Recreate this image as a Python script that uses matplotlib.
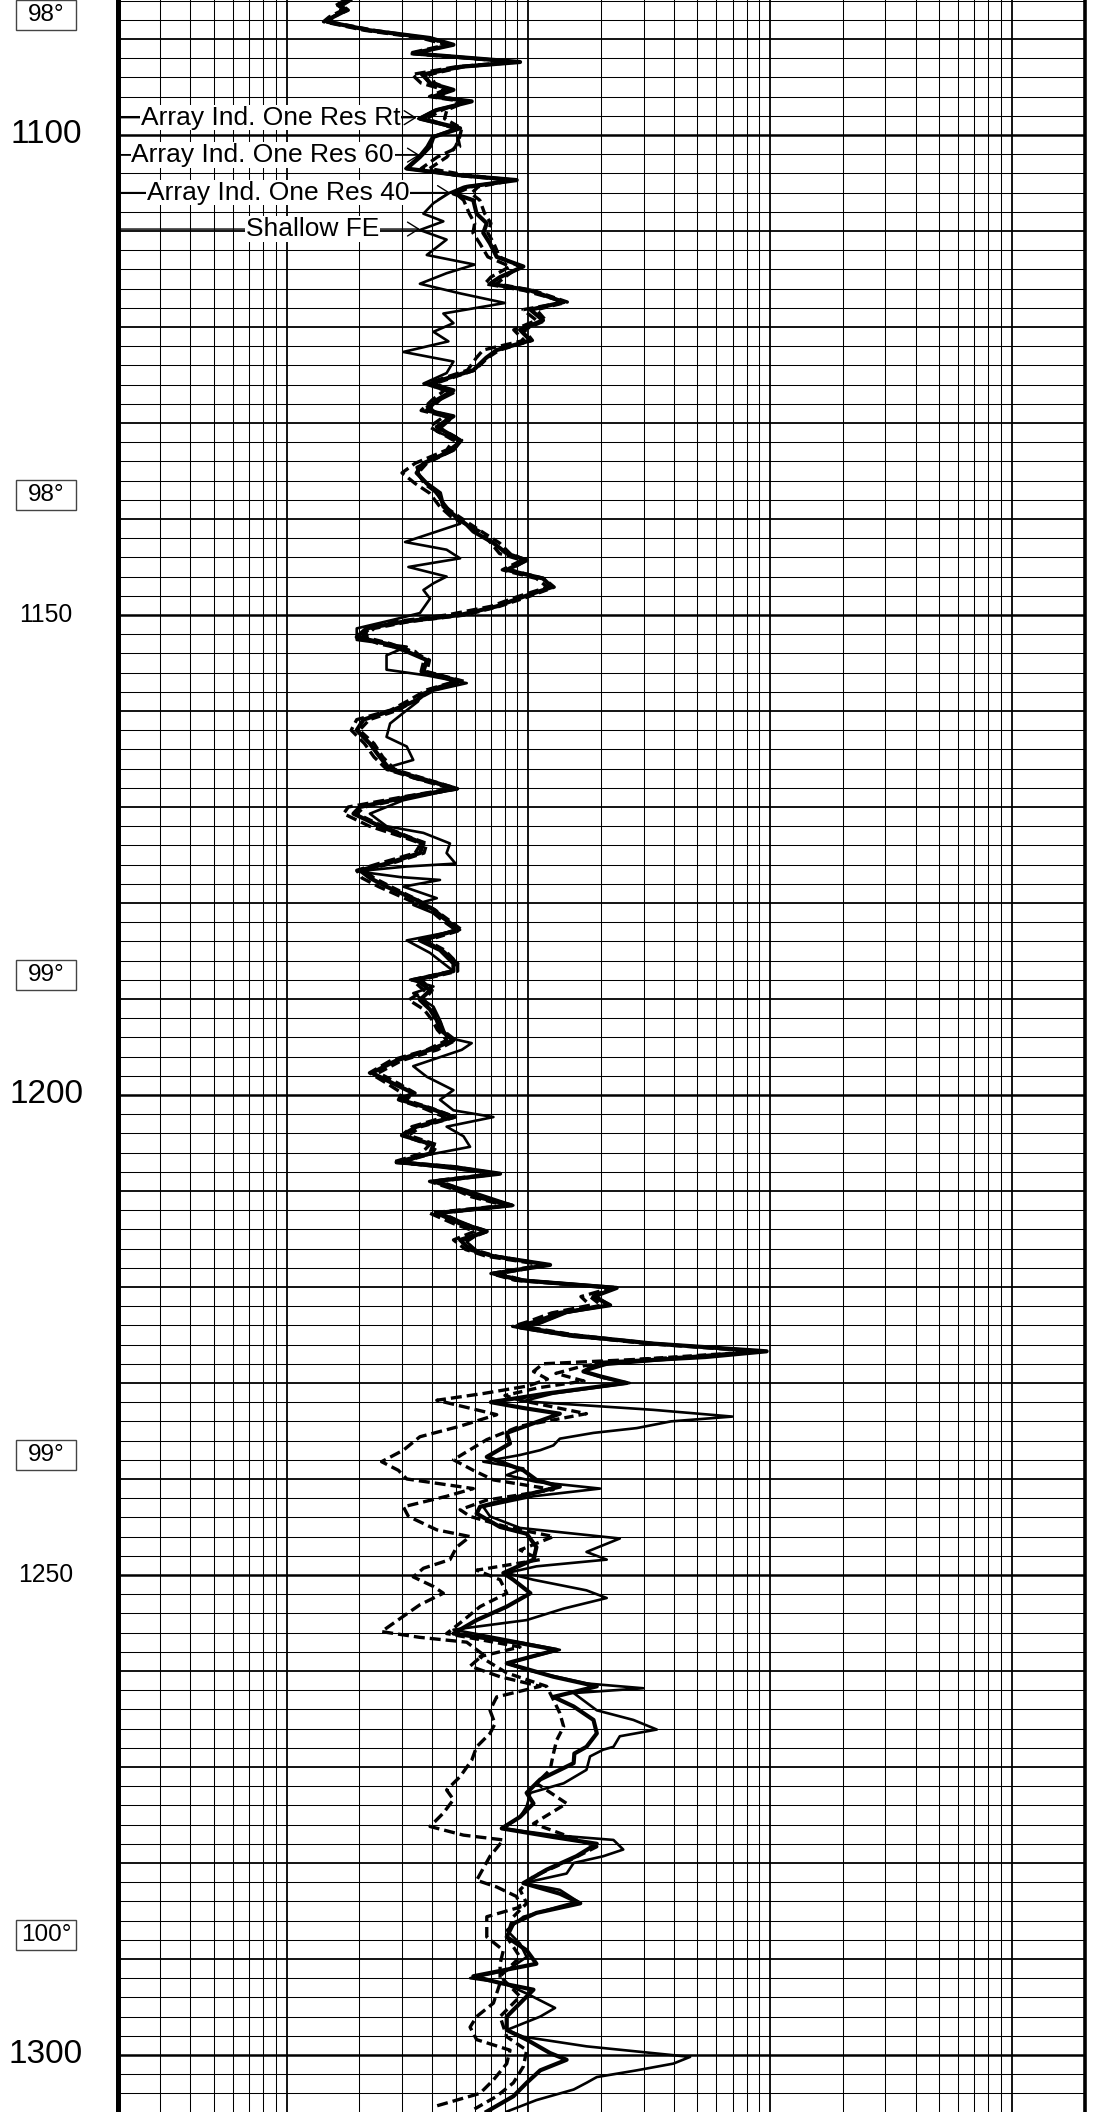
import matplotlib
matplotlib.use('Agg')
import matplotlib.pyplot as plt
import matplotlib.transforms as mtransforms
from matplotlib.patches import Rectangle

plt.rcParams['font.family'] = ['Liberation Sans', 'DejaVu Sans']

# ---- data (depth in ft, resistivity in ohm-m) ----
rt_depth = [1085.9, 1086.5, 1087.0, 1087.7, 1088.2, 1089.1, 1089.9, 1090.6, 1091.5, 1092.4,
            1092.9, 1093.7, 1094.6, 1095.3, 1096.0, 1096.5, 1097.4, 1098.3, 1099.3, 1100.2,
            1101.2, 1102.3, 1103.5, 1104.2, 1104.7, 1105.4, 1106.1, 1106.8, 1108.2, 1109.2,
            1110.2, 1111.3, 1112.7, 1113.7, 1114.8, 1115.5, 1116.2, 1117.4, 1118.2, 1119.3,
            1120.3, 1121.4, 1122.4, 1123.2, 1124.5, 1125.9, 1126.6, 1127.6, 1128.7, 1129.3,
            1130.4, 1131.8, 1132.8, 1134.2, 1135.2, 1136.3, 1137.3, 1138.7, 1139.8, 1140.6,
            1141.3, 1142.5, 1143.6, 1144.3, 1145.3, 1146.2, 1147.1, 1148.1, 1149.1, 1150.0,
            1150.7, 1151.4, 1152.3, 1153.0, 1153.8, 1154.7, 1155.9, 1156.9, 1157.8, 1158.9,
            1159.9, 1160.9, 1162.0, 1163.4, 1164.8, 1166.1, 1167.2, 1168.1, 1168.9, 1170.0,
            1170.7, 1172.0, 1173.1, 1173.8, 1174.8, 1175.9, 1176.6, 1177.4, 1178.3, 1179.7,
            1180.7, 1181.8, 1182.8, 1183.9, 1184.9, 1186.3, 1187.1, 1188.0, 1189.1, 1190.1,
            1191.1, 1192.2, 1193.2, 1194.3, 1195.3, 1196.4, 1197.7, 1198.8, 1199.8, 1200.5,
            1201.4, 1202.3, 1203.3, 1204.2, 1205.2, 1206.1, 1207.0, 1207.5, 1208.2, 1209.0,
            1209.9, 1210.6, 1211.5, 1212.3, 1213.4, 1214.2, 1215.1, 1216.1, 1216.8, 1217.7,
            1218.6, 1219.3, 1220.1, 1221.0, 1221.9, 1222.7, 1223.6, 1224.1, 1225.0, 1225.9,
            1226.7, 1227.3, 1227.9, 1228.8, 1229.3, 1230.0, 1231.1, 1232.0, 1232.6, 1233.2,
            1235.2, 1236.3, 1237.7, 1239.1, 1240.1, 1240.8, 1241.8, 1242.9, 1243.6, 1245.0,
            1245.7, 1247.1, 1248.4, 1249.8, 1250.5, 1251.9, 1253.3, 1254.7, 1256.1, 1257.1,
            1257.8, 1259.2, 1260.6, 1261.6, 1262.7, 1263.7, 1265.1, 1266.5, 1267.9, 1268.6,
            1269.6, 1271.3, 1272.7, 1273.8, 1275.2, 1276.4, 1277.3, 1278.0, 1279.3, 1280.7,
            1282.1, 1283.2, 1284.2, 1285.2, 1286.3, 1287.7, 1289.1, 1290.5, 1291.8, 1292.5,
            1293.2, 1294.6, 1296.0, 1297.4, 1298.4, 1299.8, 1300.5, 1301.6, 1302.9, 1304.3,
            1305.9]
rt_val = [1.83, 1.66, 1.77, 1.56, 1.47, 2.21, 3.92, 4.90, 3.34, 9.24,
          5.22, 3.68, 3.92, 4.90, 4.05, 5.83, 4.18, 3.56, 5.22, 4.05,
          3.92, 3.56, 3.14, 5.22, 8.95, 5.56, 4.90, 5.92, 6.11, 6.73,
          6.51, 6.94, 7.40, 9.54, 7.64, 6.94, 10.2, 14.0, 10.2, 11.5,
          9.24, 10.2, 7.40, 6.70, 5.92, 3.92, 4.90, 4.18, 3.80, 4.90,
          4.18, 5.22, 4.90, 3.68, 3.45, 3.80, 4.31, 4.45, 5.05, 5.56,
          5.92, 7.17, 8.14, 9.84, 8.14, 11.5, 12.5, 9.54, 7.40, 5.22,
          3.04, 2.14, 1.95, 2.59, 3.14, 3.80, 3.68, 5.22, 3.92, 3.45,
          2.76, 2.08, 1.95, 2.21, 2.43, 2.68, 3.80, 5.05, 3.24, 2.01,
          1.89, 2.43, 3.14, 3.68, 3.56, 2.59, 2.01, 2.21, 2.59, 3.45,
          4.05, 4.59, 5.13, 3.56, 4.31, 4.90, 4.90, 3.45, 3.92, 3.56,
          3.92, 4.18, 4.31, 4.90, 3.92, 2.85, 2.25, 2.76, 3.34, 2.95,
          3.92, 4.90, 3.45, 3.00, 4.05, 3.92, 2.85, 4.90, 7.64, 4.05,
          5.22, 6.11, 8.54, 4.18, 5.22, 6.73, 5.22, 5.74, 7.17, 12.3,
          7.17, 9.24, 23.2, 18.6, 21.8, 13.5, 10.8, 8.95, 14.9, 32.9,
          96.8, 54.0, 19.8, 16.9, 19.8, 25.5, 11.9, 7.00, 9.50, 13.5,
          8.14, 8.40, 6.73, 9.54, 10.8, 13.5, 9.24, 6.31, 6.11, 7.64,
          9.84, 10.8, 10.5, 7.88, 8.67, 10.2, 8.14, 6.11, 4.90, 9.24,
          13.1, 8.14, 12.7, 19.2, 12.7, 15.4, 18.6, 19.2, 17.4, 15.5,
          15.4, 11.2, 9.84, 10.5, 9.24, 7.76, 12.7, 19.2, 15.8, 11.9,
          9.54, 13.5, 16.4, 10.8, 8.67, 8.14, 9.84, 10.8, 5.92, 7.64,
          10.5, 9.24, 8.14, 8.14, 9.84, 12.3, 14.4, 11.2, 9.84, 8.67,
          6.73]

r60_depth = [1085.9, 1086.5, 1087.0, 1087.7, 1088.2, 1089.1, 1089.9, 1090.6, 1091.5, 1092.4,
             1092.9, 1093.7, 1094.6, 1095.3, 1096.0, 1096.5, 1097.4, 1098.3, 1099.3, 1100.2,
             1101.2, 1102.3, 1103.5, 1104.2, 1104.7, 1105.4, 1106.1, 1106.8, 1108.2, 1109.2,
             1110.2, 1111.3, 1112.7, 1113.7, 1114.8, 1115.5, 1116.2, 1117.4, 1118.2, 1119.3,
             1120.3, 1121.4, 1122.4, 1123.2, 1124.5, 1125.9, 1126.6, 1127.6, 1128.7, 1129.3,
             1130.4, 1131.8, 1132.8, 1134.2, 1135.2, 1136.3, 1137.3, 1138.7, 1139.8, 1140.6,
             1141.3, 1142.5, 1143.6, 1144.3, 1145.3, 1146.2, 1147.1, 1148.1, 1149.1, 1150.0,
             1150.7, 1151.4, 1152.3, 1153.0, 1153.8, 1154.7, 1155.9, 1156.9, 1157.8, 1158.9,
             1159.9, 1160.9, 1162.0, 1163.4, 1164.8, 1166.1, 1167.2, 1168.1, 1168.9, 1170.0,
             1170.7, 1172.0, 1173.1, 1173.8, 1174.8, 1175.9, 1176.6, 1177.4, 1178.3, 1179.7,
             1180.7, 1181.8, 1182.8, 1183.9, 1184.9, 1186.3, 1187.1, 1188.0, 1189.1, 1190.1,
             1191.1, 1192.2, 1193.2, 1194.3, 1195.3, 1196.4, 1197.7, 1198.8, 1199.8, 1200.5,
             1201.4, 1202.3, 1203.3, 1204.2, 1205.2, 1206.1, 1207.0, 1207.5, 1208.2, 1209.0,
             1209.9, 1210.6, 1211.5, 1212.3, 1213.4, 1214.2, 1215.1, 1216.1, 1216.8, 1217.7,
             1218.6, 1219.3, 1220.1, 1221.0, 1221.9, 1222.7, 1223.6, 1224.1, 1225.0, 1225.9,
             1226.7, 1227.3, 1228.0, 1228.8, 1229.6, 1230.3, 1231.1, 1231.8, 1233.3, 1234.5,
             1235.6, 1237.0, 1238.2, 1239.1, 1240.0, 1241.0, 1241.8, 1242.9, 1243.9, 1245.3,
             1246.0, 1247.1, 1248.4, 1249.3, 1250.2, 1251.2, 1251.9, 1253.1, 1254.3, 1255.9,
             1256.5, 1257.0, 1258.3, 1259.5, 1260.6, 1261.6, 1262.7, 1264.1, 1265.5, 1266.5,
             1267.9, 1269.3, 1271.0, 1272.4, 1273.4, 1274.8, 1276.2, 1277.1, 1277.6, 1279.3,
             1281.8, 1282.5, 1283.5, 1284.6, 1285.6, 1287.7, 1289.1, 1290.5, 1292.5, 1294.6,
             1296.0, 1297.1, 1298.4, 1299.5, 1300.9, 1302.6, 1304.0, 1305.4]
r60_val = [1.75, 1.60, 1.70, 1.50, 1.42, 2.10, 3.60, 4.60, 3.20, 8.70,
           5.00, 3.30, 3.60, 4.50, 3.90, 5.30, 4.40, 3.80, 4.90, 5.10,
           5.20, 4.20, 3.60, 5.00, 8.50, 5.80, 5.00, 5.40, 5.70, 6.00,
           5.90, 6.30, 6.80, 8.40, 7.00, 6.60, 9.60, 14.2, 9.50, 10.8,
           8.70, 9.60, 6.50, 6.10, 5.60, 3.80, 4.50, 4.00, 3.60, 4.50,
           3.90, 4.90, 4.60, 3.40, 3.00, 3.40, 3.90, 4.30, 4.80, 5.60,
           6.30, 7.00, 7.60, 9.40, 7.80, 10.8, 12.0, 9.00, 7.00, 4.60,
           2.80, 2.20, 2.05, 2.40, 3.40, 3.70, 3.60, 5.00, 3.80, 3.20,
           2.70, 1.95, 1.85, 2.10, 2.30, 2.60, 3.60, 4.80, 3.10, 1.80,
           1.72, 2.20, 3.00, 3.60, 3.40, 2.40, 1.95, 2.05, 2.40, 3.20,
           3.90, 4.40, 5.00, 3.70, 4.40, 5.10, 4.80, 3.30, 3.70, 3.20,
           3.70, 4.00, 4.20, 4.60, 3.80, 2.70, 2.20, 2.60, 3.00, 2.90,
           3.70, 4.50, 3.30, 3.00, 3.90, 3.60, 2.75, 4.50, 7.20, 3.90,
           5.00, 5.80, 8.00, 3.90, 4.90, 6.00, 4.90, 5.50, 6.70, 11.5,
           7.00, 8.80, 22.0, 16.5, 18.0, 12.5, 10.0, 8.60, 14.0, 31.0,
           88.0, 45.0, 11.5, 10.5, 12.0, 10.0, 6.50, 4.18, 7.40, 5.22,
           3.56, 3.04, 2.47, 2.90, 3.14, 5.92, 4.59, 3.04, 3.19, 4.18,
           5.74, 5.05, 4.74, 3.68, 3.34, 4.05, 4.45, 3.56, 3.04, 2.47,
           3.56, 5.56, 6.51, 5.74, 7.64, 11.2, 7.40, 6.94, 7.28, 6.94,
           6.11, 5.83, 5.22, 4.59, 4.90, 4.45, 3.92, 5.39, 7.88, 6.94,
           6.11, 7.40, 8.95, 9.24, 6.73, 6.73, 7.88, 7.64, 7.64, 7.17,
           6.11, 5.74, 6.11, 8.40, 8.14, 7.17, 6.31, 4.05]

r40_depth = [1085.9, 1086.5, 1087.0, 1087.7, 1088.2, 1089.1, 1089.9, 1090.6, 1091.5, 1092.4,
             1092.9, 1093.7, 1094.6, 1095.3, 1096.0, 1096.5, 1097.4, 1098.3, 1099.3, 1100.2,
             1101.2, 1102.3, 1103.5, 1104.2, 1104.7, 1105.4, 1106.1, 1106.8, 1108.2, 1109.2,
             1110.2, 1111.3, 1112.7, 1113.7, 1114.8, 1115.5, 1116.2, 1117.4, 1118.2, 1119.3,
             1120.3, 1121.4, 1122.4, 1123.2, 1124.5, 1125.9, 1126.6, 1127.6, 1128.7, 1129.3,
             1130.4, 1131.8, 1132.8, 1134.2, 1135.2, 1136.3, 1137.3, 1138.7, 1139.8, 1140.6,
             1141.3, 1142.5, 1143.6, 1144.3, 1145.3, 1146.2, 1147.1, 1148.1, 1149.1, 1150.0,
             1150.7, 1151.4, 1152.3, 1153.0, 1153.8, 1154.7, 1155.9, 1156.9, 1157.8, 1158.9,
             1159.9, 1160.9, 1162.0, 1163.4, 1164.8, 1166.1, 1167.2, 1168.1, 1168.9, 1170.0,
             1170.7, 1172.0, 1173.1, 1173.8, 1174.8, 1175.9, 1176.6, 1177.4, 1178.3, 1179.7,
             1180.7, 1181.8, 1182.8, 1183.9, 1184.9, 1186.3, 1187.1, 1188.0, 1189.1, 1190.1,
             1191.1, 1192.2, 1193.2, 1194.3, 1195.3, 1196.4, 1197.7, 1198.8, 1199.8, 1200.5,
             1201.4, 1202.3, 1203.3, 1204.2, 1205.2, 1206.1, 1207.0, 1207.5, 1208.2, 1209.0,
             1209.9, 1210.6, 1211.5, 1212.3, 1213.4, 1214.2, 1215.1, 1216.1, 1216.8, 1217.7,
             1218.6, 1219.3, 1220.1, 1221.0, 1221.9, 1222.7, 1223.6, 1224.1, 1225.0, 1225.9,
             1226.7, 1227.5, 1228.2, 1229.0, 1229.8, 1230.5, 1231.3, 1231.8, 1233.2, 1234.5,
             1235.9, 1238.0, 1239.1, 1240.1, 1241.1, 1242.2, 1243.2, 1243.9, 1245.0, 1246.0,
             1247.4, 1248.4, 1249.5, 1250.5, 1251.9, 1253.3, 1255.0, 1256.1, 1257.5, 1258.5,
             1260.2, 1261.6, 1263.0, 1264.4, 1265.8, 1267.2, 1268.6, 1270.3, 1271.7, 1273.8,
             1275.9, 1276.9, 1278.3, 1279.7, 1281.4, 1282.8, 1284.2, 1285.6, 1287.7, 1289.8,
             1291.8, 1293.9, 1296.0, 1298.1, 1299.5, 1301.2, 1302.9, 1304.3, 1305.7]
r40_val = [1.85, 1.70, 1.80, 1.55, 1.50, 2.30, 3.80, 4.80, 3.40, 9.00,
           5.40, 3.90, 4.10, 4.80, 4.30, 5.60, 4.60, 4.50, 5.30, 5.20,
           5.00, 4.60, 3.90, 5.60, 8.70, 6.20, 5.80, 6.30, 6.60, 7.00,
           6.80, 7.20, 7.60, 9.20, 8.00, 7.40, 10.5, 14.5, 10.8, 11.8,
           9.60, 10.4, 7.60, 6.80, 6.00, 4.10, 4.80, 4.30, 3.90, 4.80,
           4.20, 5.30, 4.90, 3.80, 3.50, 3.70, 4.20, 4.50, 5.20, 5.80,
           6.40, 7.60, 8.40, 9.80, 8.40, 11.6, 12.8, 10.0, 7.60, 5.50,
           3.20, 2.30, 2.10, 2.70, 3.30, 3.90, 3.80, 5.40, 4.10, 3.40,
           2.90, 2.20, 2.00, 2.30, 2.50, 2.80, 3.90, 5.10, 3.40, 2.10,
           1.95, 2.50, 3.20, 3.80, 3.70, 2.70, 2.10, 2.30, 2.70, 3.50,
           4.10, 4.70, 5.30, 3.80, 4.50, 5.10, 5.10, 3.60, 4.00, 3.70,
           4.00, 4.30, 4.40, 5.00, 4.20, 3.00, 2.40, 2.90, 3.40, 3.10,
           4.00, 5.00, 3.60, 3.20, 4.20, 4.00, 3.00, 5.00, 7.50, 4.30,
           5.40, 6.20, 8.40, 4.40, 5.40, 6.80, 5.50, 5.90, 7.40, 12.0,
           7.60, 9.50, 22.5, 18.0, 20.0, 14.0, 11.5, 9.60, 15.5, 33.0,
           92.0, 30.0, 17.0, 13.0, 17.0, 11.0, 8.00, 9.24, 17.4, 9.24,
           6.73, 4.90, 5.92, 7.17, 12.7, 6.73, 5.22, 5.74, 8.14, 12.7,
           9.24, 11.2, 6.11, 7.64, 8.14, 6.31, 5.22, 4.59, 9.24, 6.31,
           8.14, 11.9, 12.7, 13.5, 14.0, 13.1, 12.7, 12.3, 10.8, 14.4,
           10.5, 13.5, 19.2, 14.9, 10.5, 9.24, 9.84, 8.67, 8.14, 9.24,
           7.64, 9.24, 7.64, 8.14, 9.84, 9.54, 8.67, 7.40, 5.92]

sfe_depth = [1085.9, 1086.5, 1087.0, 1087.7, 1088.2, 1089.1, 1089.9, 1090.6, 1091.5, 1092.4,
             1092.9, 1093.7, 1094.6, 1095.3, 1096.0, 1096.5, 1097.4, 1098.3, 1099.3, 1100.2,
             1101.2, 1102.3, 1103.5, 1104.2, 1104.7, 1105.4, 1106.0, 1107.1, 1108.2, 1109.0,
             1109.9, 1110.9, 1112.5, 1113.5, 1114.4, 1115.5, 1116.5, 1117.5, 1118.6, 1119.6,
             1120.5, 1121.5, 1122.6, 1123.6, 1124.8, 1125.9, 1126.9, 1128.3, 1129.7, 1130.9,
             1131.9, 1133.2, 1134.6, 1135.6, 1137.0, 1138.7, 1140.5, 1141.3, 1142.4, 1143.2,
             1144.1, 1145.0, 1146.0, 1146.7, 1147.4, 1148.3, 1149.8, 1150.5, 1151.4, 1152.6,
             1153.3, 1154.2, 1155.7, 1156.3, 1157.1, 1158.2, 1159.0, 1160.2, 1161.3, 1162.7,
             1163.7, 1165.1, 1165.8, 1167.0, 1168.1, 1169.3, 1170.7, 1172.0, 1172.7, 1173.8,
             1174.8, 1175.9, 1176.2, 1176.7, 1177.3, 1177.6, 1178.3, 1179.5, 1180.2, 1181.2,
             1182.8, 1183.9, 1185.2, 1187.1, 1188.0, 1188.7, 1189.4, 1190.8, 1192.2, 1194.0,
             1194.6, 1195.3, 1197.0, 1198.1, 1199.5, 1200.5, 1201.6, 1202.3, 1203.3, 1204.3,
             1205.4, 1206.4, 1207.1, 1208.2, 1209.0, 1209.9, 1211.5, 1212.3, 1213.7, 1214.2,
             1215.3, 1216.5, 1217.7, 1218.6, 1219.3, 1220.0, 1221.0, 1221.9, 1222.7, 1223.8,
             1224.3, 1225.2, 1226.0, 1226.7, 1227.4, 1228.1, 1228.8, 1229.5, 1230.0, 1231.1,
             1231.9, 1232.8, 1233.5, 1234.0, 1234.7, 1235.2, 1235.8, 1236.5, 1237.0, 1237.5,
             1238.2, 1238.9, 1239.6, 1240.3, 1241.0, 1241.8, 1242.9, 1243.9, 1245.1, 1246.2,
             1247.6, 1248.4, 1249.1, 1249.8, 1250.5, 1251.6, 1252.4, 1253.5, 1254.7, 1255.7,
             1256.6, 1257.8, 1259.2, 1259.9, 1261.3, 1261.8, 1262.3, 1264.1, 1265.1, 1266.1,
             1266.8, 1267.9, 1268.2, 1268.9, 1270.3, 1271.7, 1272.7, 1274.1, 1275.2, 1276.4,
             1277.1, 1277.6, 1278.6, 1279.3, 1280.0, 1281.1, 1282.1, 1282.8, 1284.0, 1284.7,
             1285.6, 1287.0, 1288.4, 1289.8, 1291.2, 1292.0, 1292.5, 1293.6, 1295.1, 1296.0,
             1297.4, 1298.1, 1299.1, 1300.2, 1300.9, 1301.6, 1302.3, 1302.9, 1303.6, 1304.7,
             1305.9]
sfe_val = [1.80, 1.62, 1.72, 1.55, 1.45, 2.20, 3.90, 4.90, 3.30, 9.20,
           5.10, 3.60, 3.90, 4.90, 4.00, 5.80, 4.10, 3.50, 5.00, 4.00,
           3.80, 3.50, 3.10, 5.00, 8.90, 5.40, 4.74, 4.05, 3.68, 4.45,
           3.56, 4.59, 3.80, 6.00, 4.59, 3.56, 5.22, 8.00, 4.45, 4.90,
           4.05, 4.67, 3.04, 4.90, 4.59, 3.68, 4.90, 3.80, 4.74, 4.18,
           5.22, 4.45, 3.45, 3.56, 4.05, 4.59, 5.22, 4.18, 3.09, 4.59,
           5.22, 3.19, 4.59, 4.05, 3.68, 3.92, 3.56, 2.76, 1.95, 1.95,
           3.14, 2.59, 2.59, 3.80, 5.56, 3.56, 3.50, 3.04, 2.68, 2.59,
           3.14, 3.34, 2.68, 3.34, 5.05, 3.04, 2.21, 2.59, 3.68, 4.74,
           4.59, 5.00, 3.14, 1.95, 2.95, 4.31, 3.04, 4.18, 3.34, 4.18,
           5.22, 3.14, 3.92, 4.90, 3.24, 4.05, 3.34, 4.05, 4.31, 4.59,
           5.83, 5.30, 3.34, 3.80, 4.90, 4.31, 4.90, 7.17, 4.59, 5.39,
           5.74, 3.56, 3.04, 7.40, 4.18, 5.56, 8.67, 4.31, 5.92, 6.51,
           5.56, 6.31, 11.9, 7.17, 9.84, 22.5, 19.2, 21.8, 14.4, 11.2,
           9.24, 15.4, 38.0, 94.0, 45.0, 21.0, 16.9, 20.5, 26.3, 12.7,
           9.50, 32.9, 69.8, 38.9, 28.1, 18.6, 13.5, 12.7, 11.2, 9.24,
           6.51, 9.54, 8.14, 10.8, 19.8, 10.5, 6.51, 6.94, 9.24, 23.9,
           17.4, 21.1, 10.8, 8.14, 10.5, 17.4, 21.1, 14.0, 9.84, 4.90,
           7.64, 13.5, 8.14, 9.84, 17.4, 29.9, 15.4, 19.2, 27.2, 34.0,
           23.9, 22.5, 20.4, 18.0, 17.4, 14.0, 10.2, 9.84, 9.24, 7.88,
           12.7, 22.5, 24.7, 20.4, 15.4, 14.4, 9.54, 13.5, 16.0, 12.7,
           9.54, 8.14, 9.24, 9.84, 8.14, 5.74, 7.88, 9.84, 12.9, 11.2,
           8.14, 9.54, 17.4, 46.7, 39.8, 28.1, 19.2, 17.4, 15.4, 10.8,
           8.14]

curve_names = ['Array Ind. One Res Rt', 'Array Ind. One Res 60',
               'Array Ind. One Res 40', 'Shallow FE']
depth_labels = [1100, 1150, 1200, 1250, 1300]
temp_depths = [1087.5, 1137.5, 1187.5, 1237.5, 1287.5]
temp_labels = ['98°', '98°', '99°', '99°', '100°']

# ---- figure ----
W, H = 1103, 2112
fig = plt.figure(figsize=(W / 100, H / 100), dpi=100)
x0, x1 = 117.7, 1084.5
ax = fig.add_axes([x0 / W, 0, (x1 - x0) / W, 1])
ax.set_xscale('log')
ax.set_xlim(0.2, 2000)
ax.set_ylim(1305.94, 1085.94)
ax.tick_params(which='both', length=0, labelleft=False, labelbottom=False)
ax.spines['top'].set_visible(False)
ax.spines['bottom'].set_visible(False)
ax.spines['left'].set_linewidth(3.6)
ax.spines['right'].set_linewidth(2.6)

# log grid
for dec in [0.1, 1, 10, 100, 1000]:
    for m in range(1, 10):
        v = dec * m
        if v <= 0.2 + 1e-9 or v >= 2000 - 1e-6:
            continue
        ax.axvline(v, color='black', lw=1.3 if m == 1 else 0.75, zorder=1)

for d in range(1086, 1306, 2):
    if d % 50 == 0:
        lw = 1.8
    elif d % 10 == 0:
        lw = 1.3
    else:
        lw = 0.75
    ax.axhline(d, color='black', lw=lw, zorder=1)

# curves
ax.plot(sfe_val, sfe_depth, color='black', lw=1.9, zorder=3)
ax.plot(r40_val, r40_depth, color='black', lw=2.4, ls=(0, (2.8, 1.5)), zorder=3)
ax.plot(r60_val, r60_depth, color='black', lw=2.4, ls=(0, (3.3, 1.5)), zorder=3)
ax.plot(rt_val, rt_depth, color='black', lw=3.0, zorder=4)

# curve labels with leader arrows
lab_depth = [1098.2, 1102.1, 1106.0, 1109.8]
lab_end = [2.95, 2.78, 3.21, 2.41]
lab_tip = [3.45, 3.56, 4.74, 3.56]
for name, d, xe, xt in zip(curve_names, lab_depth, lab_end, lab_tip):
    ax.annotate('', xy=(xt, d), xytext=(0.2, d),
                arrowprops=dict(arrowstyle='->,head_length=0.4,head_width=0.25',
                                lw=1.0, color='black', shrinkA=0, shrinkB=0,
                                mutation_scale=20), zorder=5)
    ax.text(xe, d, name, ha='right', va='center', fontsize=19, zorder=6,
            bbox=dict(facecolor='white', edgecolor='none', pad=0.6))

# left margin: depths and temperature boxes
trans = mtransforms.blended_transform_factory(fig.transFigure, ax.transData)
for d in depth_labels:
    fs = 24 if d % 100 == 0 else 17.8
    ax.text(46 / W, d, str(d), transform=trans, ha='center', va='center',
            fontsize=fs, clip_on=False)

for d, t in zip(temp_depths, temp_labels):
    ax.add_patch(Rectangle((15.7 / W, d - 1.56), 60.3 / W, 3.12, transform=trans,
                           fill=False, edgecolor='#444444', lw=1.0, clip_on=False))
    ax.text(46 / W, d, t, transform=trans, ha='center', va='center',
            fontsize=17.5, clip_on=False)

fig.savefig('out.png', dpi=100)
